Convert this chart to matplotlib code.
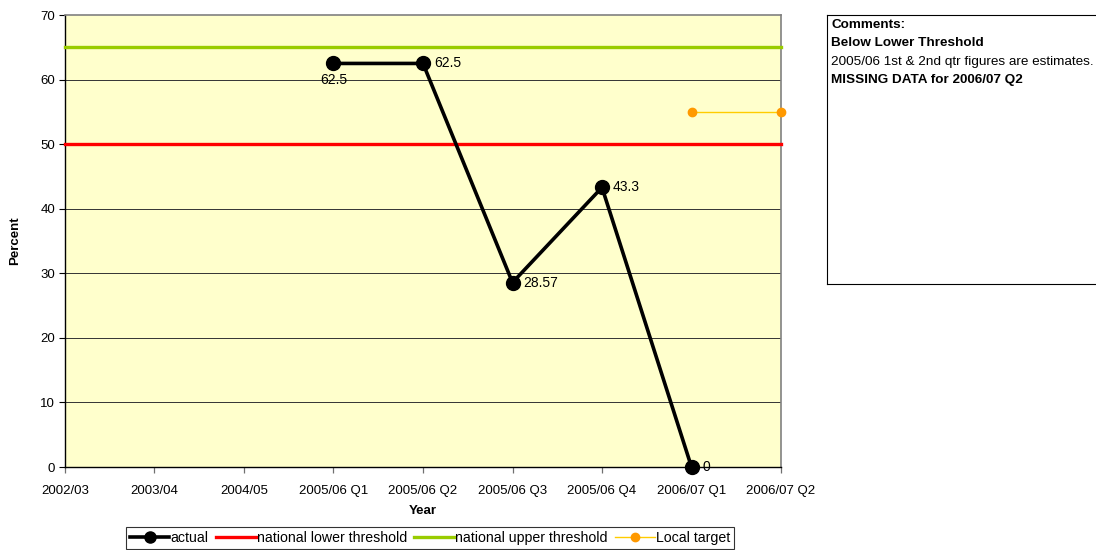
import matplotlib
matplotlib.use("Agg")
import matplotlib.pyplot as plt
from matplotlib.lines import Line2D

plt.rcParams['font.family'] = ['Liberation Sans', 'DejaVu Sans']

categories = ["2002/03", "2003/04", "2004/05", "2005/06 Q1", "2005/06 Q2",
              "2005/06 Q3", "2005/06 Q4", "2006/07 Q1", "2006/07 Q2"]
actual_idx = [3, 4, 5, 6, 7]
actual_vals = [62.5, 62.5, 28.57, 43.3, 0]
actual_labels = ["62.5", "62.5", "28.57", "43.3", "0"]
lower_threshold = 50
upper_threshold = 65
target_idx = [7, 8]
target_vals = [55, 55]
yticks = [0, 10, 20, 30, 40, 50, 60, 70]

fig = plt.figure(figsize=(10.96, 5.5), dpi=100)
ax = fig.add_axes([0.0593, 0.1509, 0.6533, 0.8218])
ax.set_facecolor("#FFFFCC")

ax.set_xlim(0, len(categories) - 1)
ax.set_ylim(0, 70)
ax.set_yticks(yticks)
ax.set_xticks(range(len(categories)))
ax.set_xticklabels(categories)
ax.tick_params(axis='y', labelsize=9.5, length=4, width=0.8, color='black',
               direction='out', pad=3)
ax.tick_params(axis='x', labelsize=9.5, length=4, width=0.9, color='#707070',
               direction='out', pad=9)

for y in yticks[1:-1]:
    ax.axhline(y, color='#333333', lw=0.7, zorder=1)

for side in ('top', 'right'):
    ax.spines[side].set_color('#808080')
    ax.spines[side].set_linewidth(1.2)
for side in ('left', 'bottom'):
    ax.spines[side].set_color('black')
    ax.spines[side].set_linewidth(1.0)

ax.axhline(lower_threshold, color='#FF0000', lw=2.4, zorder=3, clip_on=False)
ax.axhline(upper_threshold, color='#99CC00', lw=2.4, zorder=3, clip_on=False)

ax.plot(target_idx, target_vals, color='#FFCC00', lw=1.0, marker='o', ms=6,
        mfc='#FF9900', mec='#FF9900', zorder=4, clip_on=False)
ax.plot(actual_idx, actual_vals, color='black', lw=2.6, marker='o', ms=10,
        zorder=5, clip_on=False)

for i, (x, v, lab) in enumerate(zip(actual_idx, actual_vals, actual_labels)):
    if i == 0:
        ax.annotate(lab, (x, v), xytext=(0, -7), textcoords='offset points',
                    ha='center', va='top', fontsize=10)
    else:
        ax.annotate(lab, (x, v), xytext=(8, 0), textcoords='offset points',
                    ha='left', va='center', fontsize=10)

ax.set_xlabel("Year", fontsize=9.5, fontweight='bold', labelpad=6)
ax.set_ylabel("Percent", fontsize=9.5, fontweight='bold', labelpad=14)

handles = [
    Line2D([], [], color='black', lw=2.6, marker='o', ms=8),
    Line2D([], [], color='#FF0000', lw=2.4),
    Line2D([], [], color='#99CC00', lw=2.4),
    Line2D([], [], color='#FFCC00', lw=1.0, marker='o', ms=6,
           mfc='#FF9900', mec='#FF9900'),
]
labels = ["actual", "national lower threshold", "national upper threshold", "Local target"]
leg = fig.legend(handles, labels, loc='center', bbox_to_anchor=(430 / 1096, 1 - 538 / 550),
                 ncol=4, fontsize=10.2, frameon=True, fancybox=False,
                 handlelength=2.8, handletextpad=0.1, columnspacing=0.5,
                 borderpad=0.25, borderaxespad=0)
leg.get_frame().set_edgecolor('black')
leg.get_frame().set_linewidth(0.8)

# comments panel
box = fig.add_axes([827 / 1096, 1 - 284 / 550, (1096 - 827 + 5) / 1096, (284 - 15) / 550])
box.set_xticks([])
box.set_yticks([])
for s in box.spines.values():
    s.set_color('black')
    s.set_linewidth(0.8)
comment_lines = [("Comments:", 'bold'), ("Below Lower Threshold", 'bold'),
                 ("2005/06 1st & 2nd qtr figures are estimates.", 'normal'),
                 ("MISSING DATA for 2006/07 Q2", 'bold')]
for k, (txt, w) in enumerate(comment_lines):
    fig.text(831 / 1096, 1 - (25 + 18.3 * k) / 550, txt, fontsize=9.7,
             fontweight=w, ha='left', va='center')

fig.savefig("out.png", dpi=100)
